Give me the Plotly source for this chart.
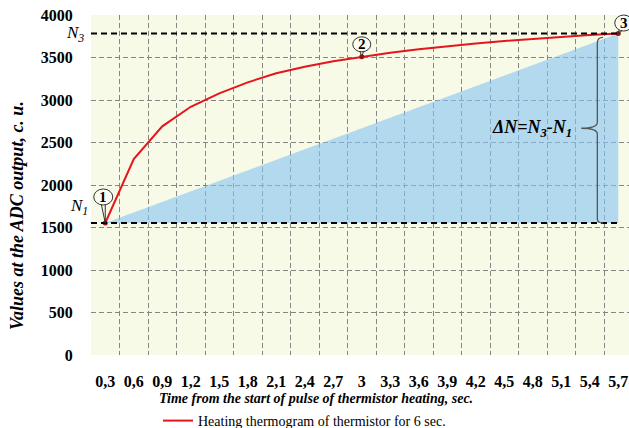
import plotly.graph_objects as go

# ---- data ----
time_s = [0.3, 0.6, 0.9, 1.2, 1.5, 1.8, 2.1, 2.4, 2.7, 3.0,
          3.3, 3.6, 3.9, 4.2, 4.5, 4.8, 5.1, 5.4, 5.7]
time_labels = ["0,3", "0,6", "0,9", "1,2", "1,5", "1,8", "2,1", "2,4", "2,7", "3",
               "3,3", "3,6", "3,9", "4,2", "4,5", "4,8", "5,1", "5,4", "5,7"]
adc_values = [1553, 2305, 2690, 2920, 3078, 3208, 3315, 3392, 3455, 3508,
              3556, 3598, 3635, 3666, 3695, 3721, 3745, 3765, 3782]
y_ticks = [0, 500, 1000, 1500, 2000, 2500, 3000, 3500, 4000]
key_idx = [0, 9, 18]          # points 1, 2, 3

N1 = adc_values[0]
N3 = adc_values[-1]

SERIF = "Liberation Serif"
W, H = 629, 428
ML, MR, MT, MB = 91, 0, 15, 73
PW, PH = W - ML - MR, H - MT - MB
step = time_s[1] - time_s[0]
x_lo = time_s[0] - step / 2
px_per_unit = 95.0
x_hi = x_lo + PW / px_per_unit
Y_MAX = 4000
boundaries = [round(t - step / 2, 2) for t in time_s]


def px_x(p):   # page pixel -> paper x
    return (p - ML) / PW


def px_y(p):   # page pixel -> paper y
    return (MT + PH - p) / PH


def data_to_paper(x, y):
    return (x - x_lo) / (x_hi - x_lo), y / Y_MAX


fig = go.Figure()

# blue triangle (N1 -> N3 ramp)
fig.add_trace(go.Scatter(
    x=[time_s[0], time_s[-1], time_s[-1]], y=[N1, N3, N1],
    mode="lines", fill="toself", fillcolor="rgba(135,195,245,0.6)",
    line=dict(width=0), showlegend=False, hoverinfo="skip"))

# red thermogram
fig.add_trace(go.Scatter(
    x=time_s, y=adc_values, mode="lines",
    line=dict(color="#e5161b", width=2),
    name="Heating thermogram of thermistor for 6 sec."))

# key points
fig.add_trace(go.Scatter(
    x=[time_s[i] for i in key_idx], y=[adc_values[i] for i in key_idx],
    mode="markers", marker=dict(color="#a00d0d", size=5), cliponaxis=False,
    showlegend=False, hoverinfo="skip"))

shapes = []
# N1 / N3 dashed lines
for v in (N1, N3):
    shapes.append(dict(type="line", xref="x", yref="y", x0=x_lo, x1=time_s[-1],
                       y0=v, y1=v, line=dict(color="black", width=2, dash="6px,4px"),
                       layer="above"))

# circled numbers with tails (pixel-sized, anchored to the points, not clipped)
circ = {0: (-11.5, 7.5, 18, 34, "M -4,19 L 0,0 L 0,19"),
        9: (-9, 9, 5, 20, "M -2,6 L 0,0 L 2,6"),
        18: (-3.5, 14.5, 2.5, 18.5, "M 1,4 L 0,0 L 4,3")}
for i, (a0, a1, b0, b1, tail) in circ.items():
    ax_, ay_ = data_to_paper(time_s[i], adc_values[i])
    shapes.append(dict(type="path", xref="paper", yref="paper", xsizemode="pixel", ysizemode="pixel",
                       xanchor=ax_, yanchor=ay_, path=tail,
                       line=dict(color="#333", width=1), layer="above"))
    shapes.append(dict(type="circle", xref="paper", yref="paper", xsizemode="pixel", ysizemode="pixel",
                       xanchor=ax_, yanchor=ay_,
                       x0=a0, x1=a1, y0=b0, y1=b1,
                       fillcolor="#fbfdf2", line=dict(color="#333", width=1), layer="above"))

# brace for delta N
mid = (N1 + N3) / 2
bx, bf, bt = 5.48, 5.54, 5.31
shapes.append(dict(
    type="path", xref="x", yref="y", layer="above",
    path=(f"M {bf},{N3-45} Q {bx},{N3-45} {bx},{N3-110} L {bx},{mid+70} "
          f"Q {bx},{mid} {bt},{mid} Q {bx},{mid} {bx},{mid-70} "
          f"L {bx},{N1+50} Q {bx},{N1} {bf},{N1}"),
    line=dict(color="#555", width=1.3)))

annotations = []
for i, lab in zip(key_idx, ["1", "2", "3"]):
    a0, a1, b0, b1, _ = circ[i]
    annotations.append(dict(x=time_s[i], y=adc_values[i], xref="x", yref="y",
                            text=f"<b>{lab}</b>", showarrow=False,
                            xshift=(a0 + a1) / 2, yshift=(b0 + b1) / 2,
                            font=dict(family=SERIF, size=15, color="black")))

annotations += [
    dict(x=px_x(75), y=N3 / Y_MAX, xref="paper", yref="paper", xanchor="center", yanchor="middle",
         text="<i>N<sub>3</sub></i>", showarrow=False, font=dict(family=SERIF, size=17, color="black")),
    dict(x=px_x(79), y=N1 / Y_MAX, yshift=16, xref="paper", yref="paper", xanchor="center", yanchor="middle",
         text="<i>N<sub>1</sub></i>", showarrow=False, font=dict(family=SERIF, size=17, color="black")),
    dict(x=4.79, y=mid, xref="x", yref="y", xanchor="center", yanchor="middle",
         text="<b><i>ΔN=N<sub>3</sub>-N<sub>1</sub></i></b>", showarrow=False,
         font=dict(family=SERIF, size=18, color="black")),
    dict(x=px_x(316), y=px_y(398), xref="paper", yref="paper",
         xanchor="center", yanchor="middle",
         text="<b><i>Time from the start of pulse of thermistor heating, sec.</i></b>",
         showarrow=False, font=dict(family=SERIF, size=14, color="black")),
    dict(x=px_x(17), y=px_y(216), xref="paper", yref="paper",
         xanchor="center", yanchor="middle", textangle=-90,
         text="<b><i>Values at the ADC output, c. u.</i></b>",
         showarrow=False, font=dict(family=SERIF, size=18, color="black")),
]

grid = dict(showgrid=True, gridcolor="#858585", gridwidth=1, griddash="5px,3px")

fig.update_layout(
    width=W, height=H,
    margin=dict(l=ML, r=MR, t=MT, b=MB, autoexpand=False),
    paper_bgcolor="white", plot_bgcolor="#f6fae6",
    shapes=shapes, annotations=annotations,
    showlegend=True,
    legend=dict(orientation="h", x=px_x(158), y=px_y(421),
                xanchor="left", yanchor="middle",
                font=dict(family=SERIF, size=14, color="black"), bgcolor="rgba(0,0,0,0)",
                itemwidth=30),
    xaxis=dict(range=[x_lo, x_hi], tickmode="array", tickvals=time_s, ticktext=time_labels,
               showgrid=False, zeroline=False, showline=False, automargin=False,
               ticklabeloverflow="allow",
               ticks="outside", ticklen=12, tickcolor="rgba(0,0,0,0)",
               tickfont=dict(family=SERIF, size=16, color="black", weight="bold"),
               minor=dict(tickmode="array", tickvals=boundaries, **grid)),
    yaxis=dict(range=[0, Y_MAX], tickmode="array", tickvals=y_ticks,
               showgrid=False, zeroline=False, showline=False, automargin=False,
               ticklabeloverflow="allow",
               ticks="outside", ticklen=14, tickcolor="rgba(0,0,0,0)",
               tickfont=dict(family=SERIF, size=16, color="black", weight="bold"),
               minor=dict(tickmode="array", tickvals=y_ticks[1:], **grid)),
)

fig.write_html("out.html", config={"displayModeBar": False},
               post_script="document.body.style.margin='0';document.body.style.overflow='hidden';")
